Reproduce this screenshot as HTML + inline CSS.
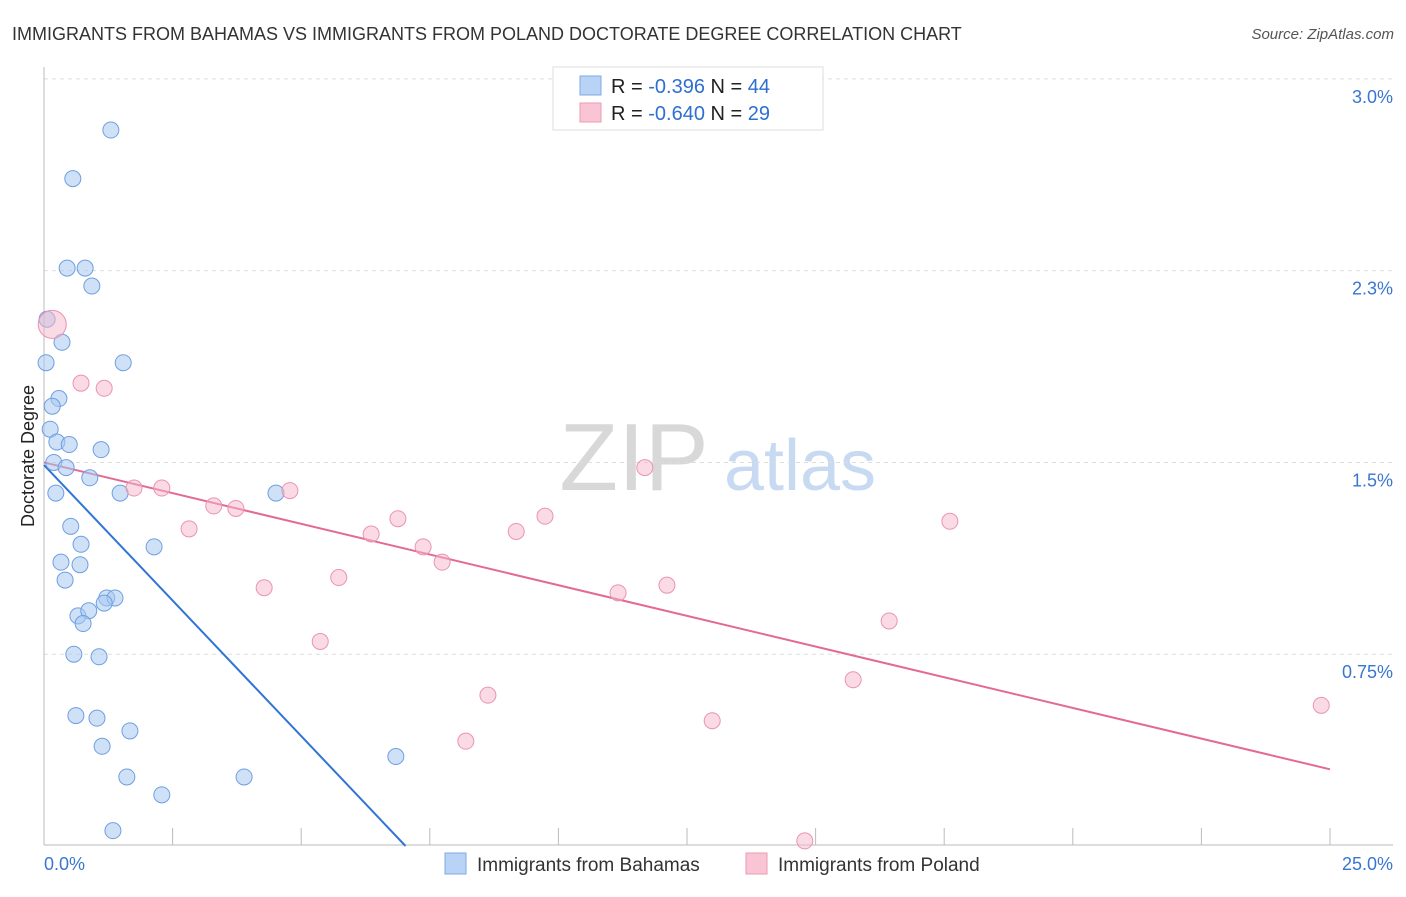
<!DOCTYPE html>
<html><head><meta charset="utf-8"><style>
body{margin:0;background:#fff;font-family:"Liberation Sans",sans-serif;}
svg text{font-family:"Liberation Sans",sans-serif;}
</style></head><body>
<svg id="chart" width="1406" height="892" xmlns="http://www.w3.org/2000/svg">
<text x="12" y="40" font-size="18" fill="#333">IMMIGRANTS FROM BAHAMAS VS IMMIGRANTS FROM POLAND DOCTORATE DEGREE CORRELATION CHART</text>
<text x="1394" y="39" font-size="15" fill="#555" text-anchor="end" font-style="italic">Source: ZipAtlas.com</text>
<g>
<text x="634" y="490" font-size="96" fill="#d8d8d8" text-anchor="middle" font-family="Liberation Serif,serif">ZIP</text>
<text x="800" y="490" font-size="72" fill="#c8daf2" text-anchor="middle">atlas</text>
</g>
<g id="grid"></g>
<g id="axes"></g>
<g id="lines"></g>
<g id="points"></g>
<text transform="translate(34,456) rotate(-90)" font-size="18" fill="#222" text-anchor="middle">Doctorate Degree</text>
<g>
<rect x="553" y="67" width="270" height="63" fill="#fff" stroke="#ddd"/>
<rect x="580" y="76" width="21" height="19" fill="#b8d3f5" stroke="#7fa9e4"/>
<rect x="580" y="103" width="21" height="19" fill="#f9c5d4" stroke="#ec9ab4"/>
<text x="611" y="93" font-size="20" fill="#222">R = <tspan fill="#2f6fd0">-0.396</tspan>   N = <tspan fill="#2f6fd0">44</tspan></text>
<text x="611" y="120" font-size="20" fill="#222">R = <tspan fill="#2f6fd0">-0.640</tspan>   N = <tspan fill="#2f6fd0"> 29</tspan></text>
</g>
<g>
<rect x="445" y="853" width="21" height="21" fill="#b8d3f5" stroke="#7fa9e4"/>
<text x="477" y="871" font-size="19" fill="#333">Immigrants from Bahamas</text>
<rect x="746" y="853" width="21" height="21" fill="#f9c5d4" stroke="#ec9ab4"/>
<text x="778" y="871" font-size="19" fill="#333">Immigrants from Poland</text>
</g>
</svg>
<script>
const xTicks=[0,2.5,5,7.5,10,12.5,15,17.5,20,22.5,25];
const yTicks=[0.75,1.5,2.25,3.0];
const yTickLabels=["0.75%","1.5%","2.3%","3.0%"];
const bahamasX=[1.30,0.56,0.45,0.80,0.93,0.06,0.35,0.04,1.54,0.29,0.16,0.12,0.25,0.49,1.11,0.19,0.43,0.89,0.23,1.48,4.51,0.52,0.72,2.14,0.33,0.70,0.41,1.22,1.38,1.17,0.66,0.87,0.76,0.58,1.07,0.62,1.03,1.67,1.13,6.84,1.61,3.89,2.29,1.34];
const bahamasY=[2.80,2.61,2.26,2.26,2.19,2.06,1.97,1.89,1.89,1.75,1.72,1.63,1.58,1.57,1.55,1.50,1.48,1.44,1.38,1.38,1.38,1.25,1.18,1.17,1.11,1.10,1.04,0.97,0.97,0.95,0.90,0.92,0.87,0.75,0.74,0.51,0.50,0.45,0.39,0.35,0.27,0.27,0.20,0.06];
const polandX=[0.16,0.72,1.17,11.68,1.75,2.29,4.78,3.30,3.73,2.82,6.88,9.74,6.36,9.18,17.61,7.37,7.74,5.73,4.28,11.16,12.11,16.43,5.37,15.73,8.63,12.99,8.20,24.83,14.79];
const polandY=[2.04,1.81,1.79,1.48,1.40,1.40,1.39,1.33,1.32,1.24,1.28,1.29,1.22,1.23,1.27,1.17,1.11,1.05,1.01,0.99,1.02,0.88,0.80,0.65,0.59,0.49,0.41,0.55,0.02];
const polandR=[14,8,8,8,8,8,8,8,8,8,8,8,8,8,8,8,8,8,8,8,8,8,8,8,8,8,8,8,8];
const bahamasTrend=[1.49,-0.212];
const polandTrend=[1.50,-0.048];
const X=v=>44+v*51.44, Y=v=>846-v*255.7;
const NS="http://www.w3.org/2000/svg";
function mk(t,a,p){const e=document.createElementNS(NS,t);for(const k in a)e.setAttribute(k,a[k]);document.getElementById(p).appendChild(e);return e;}
yTicks.forEach((t,i)=>{
 const g=mk('line',{x1:44,x2:1393,y1:Y(t),y2:Y(t),stroke:'#ddd','stroke-dasharray':'4,4'},'grid');
 
 
 const l=mk('text',{x:1393,y:Y(t)+24,'font-size':18,fill:'#3a76d0','text-anchor':'end'},'axes');
 l.textContent=yTickLabels[i];
 
 
});
const ya=mk('line',{x1:44,x2:44,y1:67,y2:845,stroke:'#bbb'},'axes');


const xa=mk('line',{x1:44,x2:1393,y1:845,y2:845,stroke:'#bbb'},'axes');


xTicks.forEach(t=>{
 const k=mk('line',{x1:X(t),x2:X(t),y1:828,y2:845,stroke:'#bbb'},'axes');
 
 
});
const xl0=mk('text',{x:44,y:870,'font-size':18,fill:'#3a76d0'},'axes');xl0.textContent='0.0%';


const xl1=mk('text',{x:1393,y:870,'font-size':18,fill:'#3a76d0','text-anchor':'end'},'axes');xl1.textContent='25.0%';


// trend lines
const bx1=-bahamasTrend[0]/bahamasTrend[1];
const bl=mk('line',{x1:X(0),y1:Y(bahamasTrend[0]),x2:X(bx1),y2:Y(0),stroke:'#2f74d6','stroke-width':2},'lines');


const pl=mk('line',{x1:X(0),y1:Y(polandTrend[0]),x2:X(25),y2:Y(polandTrend[0]+25*polandTrend[1]),stroke:'#e36a95','stroke-width':2},'lines');


bahamasX.forEach((x,i)=>{
 const c=mk('circle',{cx:X(x),cy:Y(bahamasY[i]),r:8,fill:'rgba(168,200,240,0.55)',stroke:'#6f9fe0','stroke-width':1},'points');
 
 
});
polandX.forEach((x,i)=>{
 const c=mk('circle',{cx:X(x),cy:Y(polandY[i]),r:polandR[i],fill:'rgba(246,184,204,0.5)',stroke:'#eb93b0','stroke-width':1},'points');
 
 
});
</script>
</body></html>
